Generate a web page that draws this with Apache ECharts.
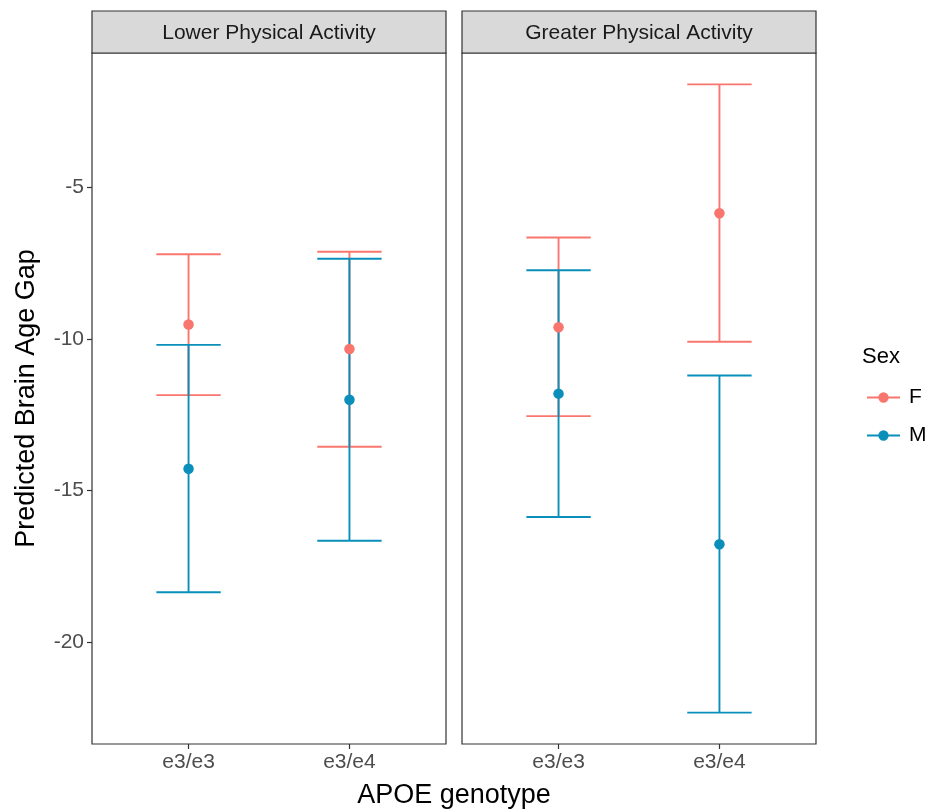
<!DOCTYPE html>
<html>
<head>
<meta charset="utf-8">
<title>Predicted Brain Age Gap</title>
<script src="https://cdn.jsdelivr.net/npm/echarts@6/dist/echarts.min.js"></script>
<style>
  html, body { margin: 0; padding: 0; background: #fff; }
  #chart { width: 930px; height: 812px; }
</style>
</head>
<body>
<div id="chart"></div>
<script>
// 数据
const genotypes = ["e3/e3", "e3/e4"];
const panels = ["Lower Physical Activity", "Greater Physical Activity"];
const sexes = ["F", "M"];

// Lower Physical Activity
const lowF_est = [-9.53, -10.34];
const lowF_lo = [-11.86, -13.56];
const lowF_hi = [-7.21, -7.13];
const lowM_est = [-14.29, -12.01];
const lowM_lo = [-18.36, -16.66];
const lowM_hi = [-10.2, -7.36];

// Greater Physical Activity
const highF_est = [-9.62, -5.86];
const highF_lo = [-12.55, -10.1];
const highF_hi = [-6.66, -1.61];
const highM_est = [-11.81, -16.78];
const highM_lo = [-15.88, -22.33];
const highM_hi = [-7.74, -11.21];

const yTicks = [-20, -15, -10, -5];

const colors = { F: "#F8766D", M: "#0A8FBA" };
const font = "'Liberation Sans', Arial, sans-serif";

const groups = [
  { F: [lowF_est, lowF_lo, lowF_hi], M: [lowM_est, lowM_lo, lowM_hi] },
  { F: [highF_est, highF_lo, highF_hi], M: [highM_est, highM_lo, highM_hi] },
];

// y 轴范围: 数据范围外扩 5%
const allVals = [].concat(lowF_lo, lowF_hi, lowM_lo, lowM_hi, highF_lo, highF_hi, highM_lo, highM_hi);
const dMin = Math.min(...allVals);
const dMax = Math.max(...allVals);
const pad = (dMax - dMin) * 0.05;
const yMin = dMin - pad;
const yMax = dMax + pad;

const gridLeft = [92, 462];
const gridWidth = 354;
const gridTop = 53;
const gridHeight = 691;

const chart = echarts.init(document.getElementById("chart"));

function errorBar(color) {
  return function (params, api) {
    const x = api.value(0);
    const lo = api.value(1);
    const hi = api.value(2);
    const pLo = api.coord([x, lo]);
    const pHi = api.coord([x, hi]);
    const capL = api.coord([x - 0.2, lo])[0];
    const capR = api.coord([x + 0.2, lo])[0];
    const style = { stroke: color, lineWidth: 1.9 };
    return {
      type: "group",
      children: [
        { type: "line", shape: { x1: pLo[0], y1: pLo[1], x2: pHi[0], y2: pHi[1] }, style: style },
        { type: "line", shape: { x1: capL, y1: pLo[1], x2: capR, y2: pLo[1] }, style: style },
        { type: "line", shape: { x1: capL, y1: pHi[1], x2: capR, y2: pHi[1] }, style: style },
      ],
    };
  };
}

const series = [];
groups.forEach((g, pi) => {
  sexes.forEach((s) => {
    series.push({
      name: s,
      type: "scatter",
      xAxisIndex: pi,
      yAxisIndex: pi,
      symbol: "circle",
      symbolSize: 10.5,
      itemStyle: { color: colors[s], opacity: 1 },
      data: g[s][0].map((v, i) => [i + 1, v]),
      silent: true,
    });
  });
  sexes.forEach((s) => {
    series.push({
      name: s,
      type: "custom",
      xAxisIndex: pi,
      yAxisIndex: pi,
      renderItem: errorBar(colors[s]),
      encode: { x: 0, y: [1, 2] },
      itemStyle: { color: colors[s] },
      data: g[s][1].map((v, i) => [i + 1, v, g[s][2][i]]),
      silent: true,
    });
  });
});

const legendIcon =
  "path://M0,4.2H30V5.8H0Z M10.3,5a4.7,4.7 0 1,1 9.4,0a4.7,4.7 0 1,1 -9.4,0Z";

const option = {
  animation: false,
  backgroundColor: "#fff",
  textStyle: { fontFamily: font },
  grid: gridLeft.map((l) => ({
    left: l,
    top: gridTop,
    width: gridWidth,
    height: gridHeight,
    show: true,
    borderColor: "#333333",
    borderWidth: 1.2,
    backgroundColor: "#fff",
  })),
  xAxis: gridLeft.map((l, i) => ({
    type: "value",
    gridIndex: i,
    min: 0.4,
    max: 2.6,
    splitLine: { show: false },
    axisLine: { show: false },
    axisTick: {
      show: true,
      length: 5,
      lineStyle: { color: "#333333", width: 1.2 },
      customValues: [1, 2],
    },
    axisLabel: {
      color: "#4D4D4D",
      fontSize: 21,
      fontFamily: font,
      margin: 8,
      customValues: [1, 2],
      formatter: (v) => genotypes[Math.round(v) - 1] || "",
    },
  })),
  yAxis: gridLeft.map((l, i) => ({
    type: "value",
    gridIndex: i,
    min: yMin,
    max: yMax,
    splitLine: { show: false },
    axisLine: { show: false },
    name: i === 0 ? "Predicted Brain Age Gap" : "",
    nameLocation: "middle",
    nameGap: 52,
    nameTextStyle: { color: "#000", fontSize: 27, fontFamily: font },
    axisTick: {
      show: i === 0,
      length: 5,
      lineStyle: { color: "#333333", width: 1.2 },
      customValues: yTicks,
    },
    axisLabel: {
      show: i === 0,
      color: "#4D4D4D",
      fontSize: 21,
      fontFamily: font,
      margin: 8,
      customValues: yTicks,
    },
  })),
  title: [
    {
      text: "Sex",
      left: 857,
      top: 341,
      textStyle: { color: "#000", fontSize: 22, fontWeight: "normal", fontFamily: font },
    },
  ],
  legend: {
    data: sexes,
    orient: "vertical",
    left: 862,
    top: 382,
    icon: legendIcon,
    itemWidth: 33,
    itemHeight: 11,
    itemGap: 17,
    selectedMode: false,
    textStyle: { color: "#000", fontSize: 21, fontFamily: font, padding: [0, 0, 0, 4] },
  },
  graphic: [
    ...panels.map((p, i) => ({
      type: "rect",
      shape: { x: gridLeft[i], y: 11, width: gridWidth, height: gridTop - 11 },
      style: { fill: "#D9D9D9", stroke: "#333333", lineWidth: 1.2 },
      z: 10,
    })),
    ...panels.map((p, i) => ({
      type: "text",
      x: gridLeft[i] + gridWidth / 2,
      y: 33,
      style: {
        text: p,
        fill: "#1A1A1A",
        font: "21px " + font,
        align: "center",
        verticalAlign: "middle",
      },
      z: 11,
    })),
    {
      type: "text",
      x: gridLeft[0] + (gridLeft[1] + gridWidth - gridLeft[0]) / 2,
      y: 796,
      style: {
        text: "APOE genotype",
        fill: "#000",
        font: "27px " + font,
        align: "center",
        verticalAlign: "middle",
      },
    },
  ],
  series: series,
};

chart.setOption(option);
</script>
</body>
</html>
